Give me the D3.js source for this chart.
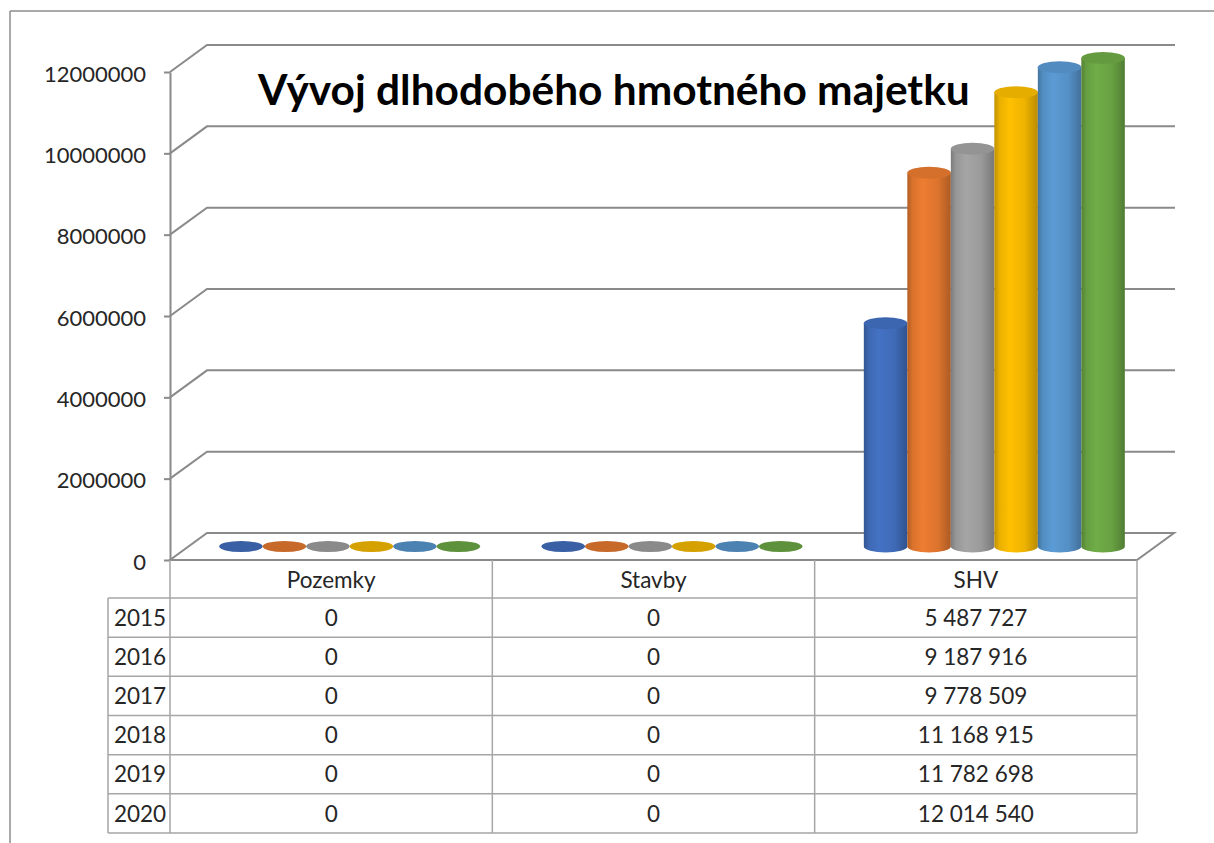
<!DOCTYPE html>
<html>
<head>
<meta charset="utf-8">
<script src="https://cdn.jsdelivr.net/npm/d3@7"></script>
<style>
  html, body { margin: 0; padding: 0; background: #fff; }
  svg { display: block; }
  text { font-family: Lato, "Open Sans", "DejaVu Sans", sans-serif; }
</style>
</head>
<body>
<svg id="chart" width="1214" height="843"></svg>
<script>
// ---- data ----
const title = "Vývoj dlhodobého hmotného majetku";
const categories = ["Pozemky", "Stavby", "SHV"];
const years = ["2015", "2016", "2017", "2018", "2019", "2020"];
const pozemky = [0, 0, 0, 0, 0, 0];
const stavby = [0, 0, 0, 0, 0, 0];
const shv = [5487727, 9187916, 9778509, 11168915, 11782698, 12014540];
const yTicks = [0, 2000000, 4000000, 6000000, 8000000, 10000000, 12000000];
const seriesColors = ["#4472C4", "#ED7D31", "#A5A5A5", "#FFC000", "#5B9BD5", "#70AD47"];

const valuesByCategory = [pozemky, stavby, shv];

// ---- layout ----
const svg = d3.select("#chart");
const W = 1214, H = 843;
const left = 170, right = 1137, floorY = 560, topY = 72;
const depthX = 37, depthY = -27;
const gridColor = "#8a8a8a", tableColor = "#a6a6a6", textColor = "#262626";

const x0 = d3.scaleBand().domain(categories).range([left, right]).padding(0);
const groupW = 261;
const x1 = d3.scaleBand().domain(years).range([0, groupW]).padding(0);
const y = d3.scaleLinear().domain([0, 12000000]).range([floorY, topY]);

// outer frame (only left and top visible)
svg.append("line").attr("x1", 10).attr("y1", 11).attr("x2", W).attr("y2", 11)
  .attr("stroke", "#8c8c8c").attr("stroke-width", 1.5);
svg.append("line").attr("x1", 10).attr("y1", 11).attr("x2", 10).attr("y2", H)
  .attr("stroke", "#8c8c8c").attr("stroke-width", 1.5);

// gradients
const defs = svg.append("defs");
seriesColors.forEach((c, i) => {
  const base = d3.color(c);
  const g = defs.append("linearGradient").attr("id", "g" + i)
    .attr("x1", "0%").attr("x2", "100%").attr("y1", "0%").attr("y2", "0%");
  g.append("stop").attr("offset", "0%").attr("stop-color", base.darker(0.8));
  g.append("stop").attr("offset", "12%").attr("stop-color", base.darker(0.25));
  g.append("stop").attr("offset", "35%").attr("stop-color", base);
  g.append("stop").attr("offset", "70%").attr("stop-color", base.darker(0.2));
  g.append("stop").attr("offset", "100%").attr("stop-color", base.darker(0.9));
});

// gridlines on back/side walls
const grid = svg.append("g");
yTicks.forEach(t => {
  if (t === 0) return;
  const yy = y(t);
  grid.append("polyline")
    .attr("points", `${left},${yy} ${left + depthX},${yy + depthY} ${right + depthX + 1},${yy + depthY}`)
    .attr("fill", "none").attr("stroke", gridColor).attr("stroke-width", 2);
});

// floor
grid.append("polygon")
  .attr("points", `${left},${floorY} ${right},${floorY} ${right + depthX},${floorY + depthY} ${left + depthX},${floorY + depthY}`)
  .attr("fill", "#fff").attr("stroke", gridColor).attr("stroke-width", 2);

// axis
const axis = d3.axisLeft(y).tickValues(yTicks).tickFormat(d3.format("d")).tickSizeInner(6).tickSizeOuter(0).tickPadding(18);
const axG = svg.append("g").attr("transform", `translate(${left},0)`).call(axis);
axG.attr("font-family", null).attr("font-size", null);
axG.select(".domain").attr("stroke", gridColor).attr("stroke-width", 2);
axG.selectAll(".tick line").attr("stroke", gridColor).attr("stroke-width", 2);
axG.selectAll(".tick text").style("font-size", "22px").style("fill", textColor).attr("dy", "0.42em");

// cylinders
const midX = depthX / 2, midY = depthY / 2;
const rx = x1.bandwidth() / 2, ry = 6;
const bars = svg.append("g");
categories.forEach((cat, ci) => {
  const vals = valuesByCategory[ci];
  const gx = x0(cat) + (x0.bandwidth() - groupW) / 2 + midX;
  years.forEach((yr, si) => {
    const v = vals[si];
    const cx = gx + x1(yr) + rx;
    const yb = y(0) + midY;
    const yt = y(v) + midY;
    const col = d3.color(seriesColors[si]);
    if (v === 0) {
      bars.append("ellipse").attr("cx", cx).attr("cy", yb).attr("rx", rx).attr("ry", 5.5)
        .attr("fill", col.darker(0.5));
      return;
    }
    bars.append("path")
      .attr("d", `M${cx - rx},${yt} L${cx - rx},${yb} A${rx},${ry} 0 0 0 ${cx + rx},${yb} L${cx + rx},${yt} Z`)
      .attr("fill", `url(#g${si})`);
    bars.append("ellipse").attr("cx", cx).attr("cy", yt).attr("rx", rx).attr("ry", ry)
      .attr("fill", col.darker(0.3));
  });
});

// title
const tt = svg.append("text").attr("x", 258).attr("y", 105)
  .style("font-weight", "bold").style("font-size", "44px").style("fill", "#000").text(title);
const tw = tt.node().getComputedTextLength();
tt.style("font-size", (44 * 712 / tw) + "px");

// data table
const fmt = d3.formatLocale({ decimal: ",", thousands: " ", grouping: [3], currency: ["", ""] }).format(",d");
const headerTop = floorY, headerBottom = 598, tableBottom = 833;
const rowH = (tableBottom - headerBottom) / years.length;
const yearLeft = 108;
const tbl = svg.append("g");
const tl = (x1_, y1_, x2_, y2_) => tbl.append("line").attr("x1", x1_).attr("y1", y1_).attr("x2", x2_).attr("y2", y2_)
  .attr("stroke", tableColor).attr("stroke-width", 1.5);

// vertical lines
[left, ...categories.slice(1).map(c => x0(c)), right].forEach(xx => tl(xx, headerTop, xx, tableBottom));
tl(yearLeft, headerBottom, yearLeft, tableBottom);
// horizontal lines
for (let r = 0; r <= years.length; r++) {
  const yy = headerBottom + r * rowH;
  tl(yearLeft, yy, right, yy);
}
const cellText = (x, yy, s) => tbl.append("text").attr("x", x).attr("y", yy).attr("dy", "0.36em")
  .attr("text-anchor", "middle").style("font-size", "22.5px").style("fill", textColor).text(s);
// header text
categories.forEach(cat => cellText(x0(cat) + x0.bandwidth() / 2, (headerTop + headerBottom) / 2 + 1, cat));
years.forEach((yr, r) => {
  const cy = headerBottom + r * rowH + rowH / 2;
  cellText((yearLeft + left) / 2 + 1, cy, yr);
  categories.forEach((cat, ci) => cellText(x0(cat) + x0.bandwidth() / 2, cy, fmt(valuesByCategory[ci][r])));
});
</script>
</body>
</html>
